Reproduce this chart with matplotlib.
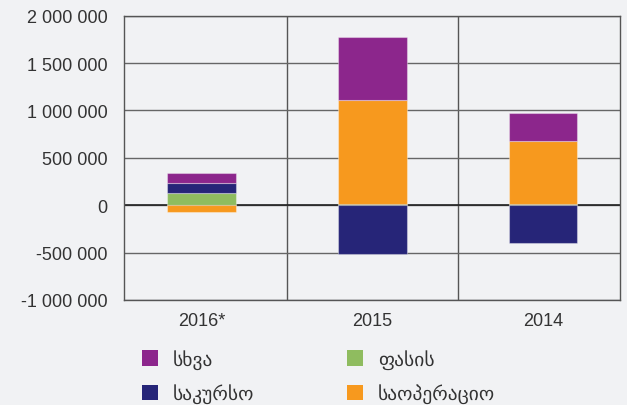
import matplotlib
matplotlib.use("Agg")
import matplotlib.pyplot as plt
from matplotlib.patches import Patch
import numpy as np

categories = ["2016*", "2015", "2014"]
series_names = ["ფასის", "საკურსო", "საოპერაციო", "სხვა"]
fasis = [132000, 15000, 12000]
sakurso = [98000, -513000, -400000]
saoperacio = [-69000, 1098000, 661000]
skhva = [113000, 661000, 299000]
yticks = [-1000000, -500000, 0, 500000, 1000000, 1500000, 2000000]

colors = {"ფასის": "#8FBC5F", "საკურსო": "#262578", "საოპერაციო": "#F7991E", "სხვა": "#8C268C"}
values = {"ფასის": fasis, "საკურსო": sakurso, "საოპერაციო": saoperacio, "სხვა": skhva}

BG = "#F1F2F4"
TXT = "#333333"
FONT = ["Liberation Sans", "DejaVu Sans"]
plt.rcParams["font.family"] = FONT

fig = plt.figure(figsize=(6.27, 4.06), dpi=100, facecolor=BG)
ax = fig.add_axes([124/627, 1-301/406, (620-124)/627, (301-16.7)/406])
ax.set_facecolor(BG)

x = np.arange(len(categories))
pos_base = np.zeros(len(categories))
neg_base = np.zeros(len(categories))
for name in series_names:
    v = np.array(values[name], dtype=float)
    bottoms = np.where(v >= 0, pos_base, neg_base)
    ax.bar(x, v, width=0.40, bottom=bottoms, color=colors[name],
           edgecolor=(1, 1, 1, 0.35), linewidth=0.8, zorder=3)
    pos_base += np.where(v >= 0, v, 0)
    neg_base += np.where(v < 0, v, 0)

ax.set_xlim(-0.453, len(categories) - 0.551)
ax.set_ylim(-1000000, 2000000)
ax.set_yticks(yticks)
ax.set_yticklabels([f"{t:,}".replace(",", " ") for t in yticks])
ax.set_xticks(x)
ax.set_xticklabels(categories)
ax.set_xticks(np.arange(0.5, len(categories) - 1, 1.0), minor=True)
ax.tick_params(axis="both", which="both", length=0, colors=TXT, labelsize=13)
ax.tick_params(axis="y", pad=12)
ax.tick_params(axis="x", pad=9)
ax.grid(axis="y", which="major", color="#666666", linewidth=1.0, zorder=1)
ax.grid(axis="x", which="minor", color="#555555", linewidth=1.0, zorder=1)
ax.axhline(0, color="#222222", linewidth=1.2, zorder=2)
for s in ax.spines.values():
    s.set_color("#555555")
    s.set_linewidth(1.0)

handles = [Patch(facecolor=colors[n], edgecolor="none") for n in ["სხვა", "საკურსო", "ფასის", "საოპერაციო"]]
labels = ["სხვა", "საკურსო", "ფასის", "საოპერაციო"]
leg = fig.legend(handles, labels, ncol=2, loc="upper left",
                 bbox_to_anchor=(142/627, 1-350/406), frameon=False,
                 prop={"family": ["DejaVu Sans"], "size": 14},
                 handlelength=0.82, handleheight=0.82, handletextpad=0.75,
                 columnspacing=4.8, labelspacing=0.75, borderaxespad=0,
                 borderpad=0)
for t in leg.get_texts():
    t.set_color(TXT)

fig.savefig("out.png", dpi=100, facecolor=BG)
